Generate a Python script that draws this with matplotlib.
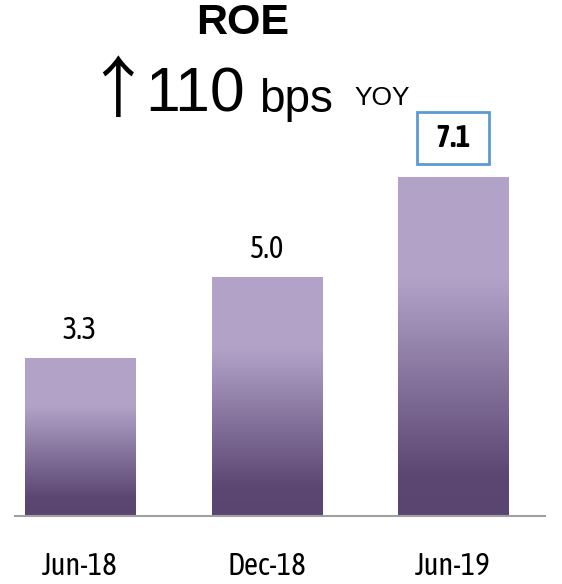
import numpy as np
import matplotlib
matplotlib.use("Agg")
import matplotlib.pyplot as plt
from matplotlib.colors import LinearSegmentedColormap

# data
periods = ["Jun-18", "Dec-18", "Jun-19"]
roe = [3.3, 5.0, 7.1]
title = "ROE"
change_text = "110"
unit_text = "bps"
suffix_text = "YOY"

narrow = ["Asap Condensed", "Archivo Narrow", "DejaVu Sans"]

# light at the top of each bar, dark at the foot
grad = LinearSegmentedColormap.from_list(
    "roe", [(0.0, "#5a4571"), (0.12, "#5c4773"), (0.7, "#b2a2c8"), (1.0, "#b3a3c9")])

fig = plt.figure(figsize=(5.62, 5.84), dpi=100)
ax = fig.add_axes([15 / 562, 68 / 584, 530 / 562, 416 / 584])

x = np.arange(len(periods))
w = 0.59
ramp = np.linspace(0, 1, 256).reshape(-1, 1)
for xi, v in zip(x, roe):
    ax.imshow(ramp, cmap=grad, origin="lower", aspect="auto",
              extent=[xi - w / 2, xi + w / 2, 0, v], zorder=2)

ax.set_xlim(-0.349, 2.493)
ax.set_ylim(0, 8.72)

# value labels
for xi, v in zip(x[:-1], roe[:-1]):
    ax.annotate(f"{v:.1f}", (xi, v), xytext=(0, 14), textcoords="offset points",
                ha="center", va="baseline", fontsize=22, fontweight="normal", family=narrow)
# last value gets the highlight box (spaces widen the box)
ax.annotate(f"  {roe[-1]:.1f}  ", (x[-1], roe[-1]), xytext=(0, 22), textcoords="offset points",
            ha="center", va="baseline", fontsize=22, fontweight="bold", family=narrow,
            bbox=dict(boxstyle="square,pad=0.35", fc="white", ec="#5b9bd5", lw=2))

for s in ["top", "left", "right"]:
    ax.spines[s].set_visible(False)
ax.spines["bottom"].set_color("#a0a0a0")
ax.spines["bottom"].set_linewidth(1.5)
ax.set_yticks([])
ax.set_xticks(x)
ax.set_xticklabels(periods, fontsize=22, fontweight="normal", family=narrow)
ax.tick_params(axis="x", length=0, pad=25)

# headline
fig.text(243 / 562, 1 - 23 / 584, title, ha="center", va="center",
         fontsize=31, fontweight="bold", family="Liberation Sans")
fig.text(84 / 562, 1 - 112 / 584, "\u2191", ha="left", va="baseline",
         fontsize=48, family=["Noto Sans CJK SC", "DejaVu Sans"])
fig.text(145 / 562, 1 - 112 / 584, change_text, ha="left", va="baseline",
         fontsize=45, family="Liberation Sans")
fig.text(259 / 562, 1 - 112 / 584, unit_text, ha="left", va="baseline",
         fontsize=33, family="Liberation Sans")
fig.text(354 / 562, 1 - 105 / 584, suffix_text, ha="left", va="baseline",
         fontsize=19, family="Liberation Sans")

plt.savefig("out.png", dpi=100)
